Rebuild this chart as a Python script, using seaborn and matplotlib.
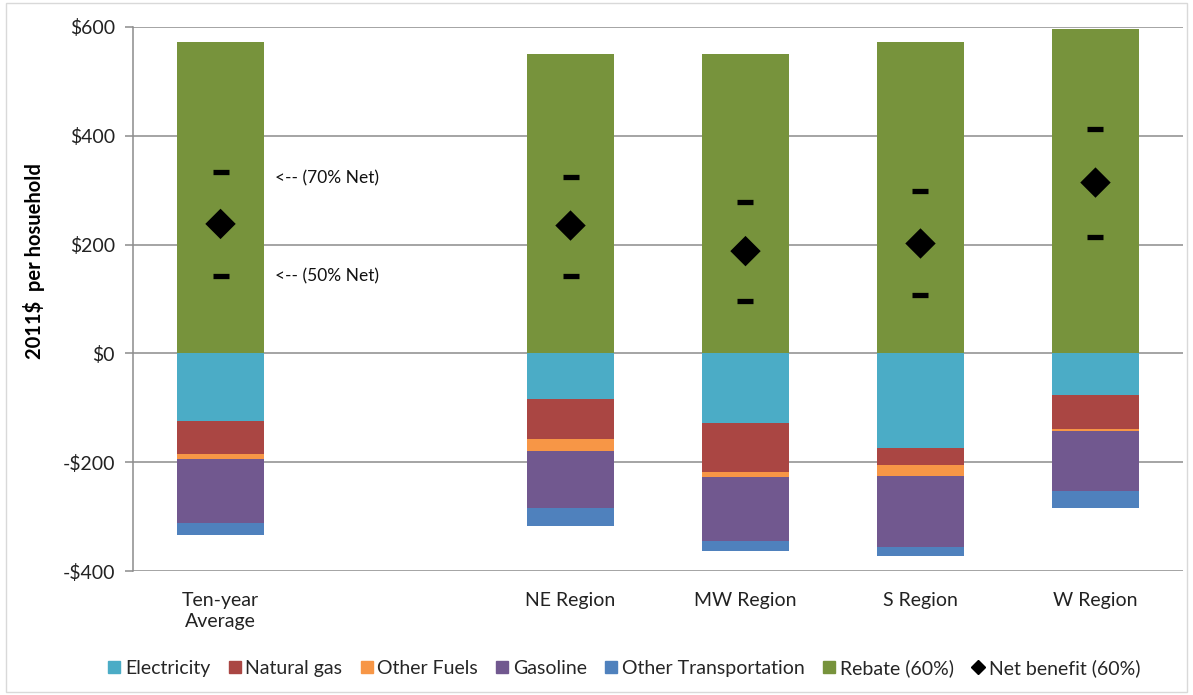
import matplotlib
matplotlib.use("Agg")
import matplotlib.pyplot as plt
from matplotlib.patches import Rectangle
from matplotlib.lines import Line2D
import numpy as np
import pandas as pd
import seaborn as sns

# ---- data (2011$ per household) ----
categories = ["Ten-year\nAverage", "NE Region", "MW Region", "S Region", "W Region"]
slots = [0, 2, 3, 4, 5]          # category slots; slot 1 is left empty as a spacer

electricity = [-125, -84, -128, -174, -77]
natural_gas = [-60, -73, -90, -32, -62]
other_fuels = [-10, -23, -10, -19, -4]
gasoline = [-117, -104, -116, -130, -110]
other_transport = [-22, -33, -19, -17, -32]
rebate = [573, 551, 551, 573, 597]

net_benefit = [238, 235, 188, 202, 314]
net_70 = [334, 325, 279, 299, 412]
net_50 = [143, 143, 97, 108, 214]

cost_series = [
    ("Electricity", electricity, "#4bacc6"),
    ("Natural gas", natural_gas, "#aa4643"),
    ("Other Fuels", other_fuels, "#f79646"),
    ("Gasoline", gasoline, "#71588f"),
    ("Other Transportation", other_transport, "#4f81bd"),
]
rebate_color = "#77933c"

sns.set_theme(style="white")
plt.rcParams["font.family"] = ["Lato", "DejaVu Sans"]

fig = plt.figure(figsize=(11.93, 6.95), dpi=100)
ax = fig.add_axes([0.1115, 0.1784, 0.8801, 0.7828])

bar_w = 0.5
grid_c = "#8c8c8c"

# horizontal gridlines behind the bars
for yv in [-400, -200, 0, 200, 400, 600]:
    ax.axhline(yv, color=grid_c, lw=1.1, zorder=0)

# rebate bar (positive side)
ax.bar(slots, rebate, width=bar_w, color=rebate_color, zorder=2, linewidth=0)

# cost components stacked downward from zero
bottom = np.zeros(len(slots))
for name, vals, col in cost_series:
    vals = np.array(vals, dtype=float)
    ax.bar(slots, vals, width=bar_w, bottom=bottom, color=col, zorder=2, linewidth=0)
    bottom = bottom + vals

# net benefit markers
pts = pd.DataFrame({"slot": slots, "net": net_benefit, "n70": net_70, "n50": net_50})
sns.scatterplot(data=pts, x="slot", y="net", marker="D", s=240, color="black",
                edgecolor="none", ax=ax, zorder=4, legend=False)
for col in ["n70", "n50"]:
    ax.plot(pts["slot"], pts[col], linestyle="none", marker="_", markersize=11.5,
            markeredgewidth=3.8, color="black", zorder=4)

ax.text(0.31, 322, "<-- (70% Net)", fontsize=12.5, va="center", ha="left", color="#111111")
ax.text(0.31, 141, "<-- (50% Net)", fontsize=12.5, va="center", ha="left", color="#111111")

ax.set_xlim(-0.5, 5.5)
ax.set_ylim(-400, 600)
ax.set_yticks([-400, -200, 0, 200, 400, 600])
ax.set_yticklabels(["-$400", "-$200", "$0", "$200", "$400", "$600"], fontsize=14, color="#222222")
ax.set_xticks(slots)
ax.set_xticklabels(categories, fontsize=14, color="#222222", linespacing=1.3, va="top")
ax.tick_params(axis="x", length=0, pad=15)
ax.tick_params(axis="y", left=True, length=6, width=1.1, color=grid_c, pad=7, direction="out")
ax.set_xlabel("")
ax.set_ylabel("2011$  per hosuehold", fontsize=14.5, fontweight="bold", color="black")
ax.yaxis.set_label_coords(-0.0838, 0.57)

for side in ["top", "right", "bottom"]:
    ax.spines[side].set_visible(False)
ax.spines["left"].set_color(grid_c)
ax.spines["left"].set_linewidth(1.1)

# legend along the bottom
handles = [Line2D([], [], marker="s", linestyle="none", color=c, markersize=8) for _, _, c in cost_series]
labels = [n for n, _, _ in cost_series]
handles.append(Line2D([], [], marker="s", linestyle="none", color=rebate_color, markersize=8))
labels.append("Rebate (60%)")
handles.append(Line2D([], [], marker="D", linestyle="none", color="black", markersize=7))
labels.append("Net benefit (60%)")
fig.legend(handles, labels, loc="center", bbox_to_anchor=(0.523, 1 - 668 / 695), ncol=7,
           frameon=False, fontsize=14, handlelength=0.7, handletextpad=0.2,
           columnspacing=0.9)

# thin outer frame
fig.patches.append(Rectangle((0.005, 0.005), 0.99, 0.99, transform=fig.transFigure,
                             fill=False, edgecolor="#d9d9d9", linewidth=1))

fig.savefig("out.png", dpi=100)
